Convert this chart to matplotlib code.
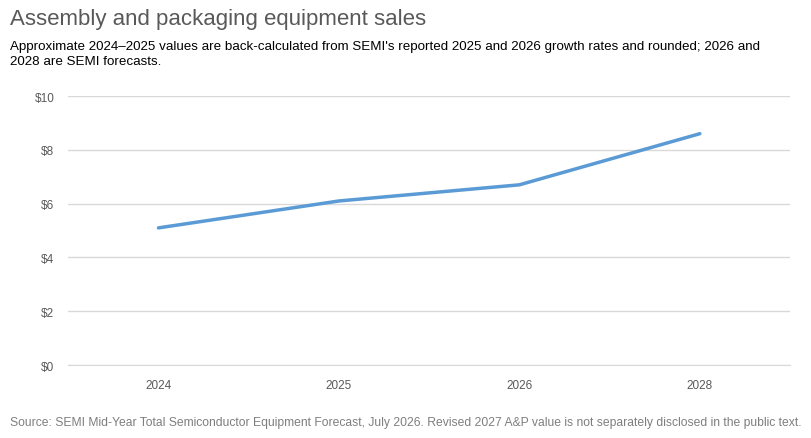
import matplotlib
matplotlib.use("Agg")
import matplotlib.pyplot as plt

# data
years = ["2024", "2025", "2026", "2028"]
sales = [5.1, 6.1, 6.7, 8.6]
y_ticks = [0, 2, 4, 6, 8, 10]

plt.rcParams['font.family'] = ['Liberation Sans', 'DejaVu Sans']

fig = plt.figure(figsize=(8.12, 4.39), dpi=100)
ax = fig.add_axes([0.084, 0.166, 0.889, 0.613])

x = list(range(len(years)))
ax.plot(x, sales, color='#5B9BD5', linewidth=2.5, solid_capstyle='round')

ax.set_xlim(-0.5, len(years) - 0.5)
ax.set_ylim(0, 10)
ax.set_xticks(x)
ax.set_xticklabels(years)
ax.set_yticks(y_ticks)
ax.set_yticklabels([f"${v}" for v in y_ticks])
ax.tick_params(colors='#595959', labelsize=8.5, length=0, pad=10)
ax.grid(axis='y', color='#D9D9D9', linewidth=1)
ax.set_axisbelow(True)
for s in ['top', 'right', 'left']:
    ax.spines[s].set_visible(False)
ax.spines['bottom'].set_color('#D9D9D9')

fig.text(0.012, 0.955, "Assembly and packaging equipment sales",
         fontsize=16, color='#595959', va='center')
fig.text(0.012, 0.875,
         "Approximate 2024\u20132025 values are back-calculated from SEMI's reported 2025 and 2026 growth rates and rounded; 2026 and\n2028 are SEMI forecasts.",
         fontsize=9.6, color='black', va='center', linespacing=1.35)
fig.text(0.5, 0.036,
         "Source: SEMI Mid-Year Total Semiconductor Equipment Forecast, July 2026. Revised 2027 A&P value is not separately disclosed in the public text.",
         fontsize=8.7, color='#7F7F7F', ha='center', va='center')

fig.savefig("out.png", dpi=100)
